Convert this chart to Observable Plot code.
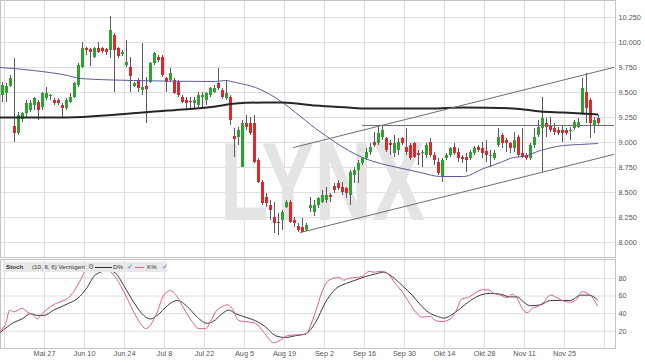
<!DOCTYPE html>
<html><head><meta charset="utf-8">
<script src="https://cdn.jsdelivr.net/npm/d3@7"></script>
<script src="https://cdn.jsdelivr.net/npm/@observablehq/plot@0.6"></script>
<style>
html,body{margin:0;padding:0;background:#fff;}
#chart{position:relative;width:645px;height:363px;overflow:hidden;font-family:"Liberation Sans",Arial,sans-serif;}
#chart svg{display:block;}
#leg{position:absolute;left:3px;top:262px;width:164px;height:10px;background:#e8e8e8;font-size:6.2px;line-height:10px;color:#333;white-space:nowrap;}
#leg span{position:absolute;top:0;}
#leg .ln{top:4.5px;height:0;border-top:1.3px solid #333;}
#leg .ck{color:#4b78c8;font-size:6.5px;}
</style></head><body>
<div id="chart"><div id="leg">
<span style="left:3px;font-weight:bold">Stoch</span>
<span style="left:29px">(10, 6, 6) Verzögert</span>
<span style="left:85px;color:#777;font-size:6.5px">⚙</span>
<span class="ln" style="left:92px;width:17px;border-color:#333"></span>
<span style="left:110px">D%</span>
<span class="ck" style="left:124px">✓</span>
<span class="ln" style="left:132px;width:9px;border-color:#e0607e"></span>
<span style="left:144px">K%</span>
<span class="ck" style="left:159px">✓</span>
</div></div>
<script>
// ---- data (trading-day index 0..149) ----
const open = [9.47,9.49,9.56,9.16,9.09,9.23,9.29,9.32,9.37,9.40, 9.35,9.44,9.46,9.42,9.42,9.37,9.34,9.40,9.45,9.57,
  9.75,9.94,9.93,9.85,9.94,9.94,9.93,9.92,10.07,9.94, 9.88,9.77,9.75,9.56,9.62,9.52,9.56,9.60,9.79,9.85,
  9.85,9.64,9.62,9.62,9.60,9.45,9.42,9.41,9.39,9.37, 9.45,9.42,9.47,9.50,9.59,9.52,9.44,9.45,9.06,9.05,
  8.75,9.19,9.19,9.19,8.82,8.60,8.45,8.37,8.25,8.20, 8.22,8.35,8.40,8.22,8.16,8.15,8.12,8.34,8.30,8.37,
  8.40,8.42,8.47,8.56,8.59,8.55,8.54,8.47,8.67,8.72, 8.79,8.84,8.90,9.00,8.99,9.05,9.04,8.99,8.89,8.92,
  9.04,8.95,8.97,8.99,8.89,8.89,8.87,9.00,8.87,8.80, 8.65,8.84,8.87,8.95,8.90,8.85,8.85,8.84,8.89,8.95,
  8.94,8.91,8.86,8.84,8.97,9.07,9.02,8.99,8.94,9.05, 8.89,8.87,8.84,8.97,9.07,9.14,9.19,9.17,9.14,9.12,
  9.12,9.12,9.11,9.14,9.15,9.29,9.50,9.42,9.17,9.24];
const high = [9.60,9.59,9.67,9.84,9.30,9.30,9.42,9.42,9.45,9.42, 9.50,9.55,9.48,9.44,9.44,9.39,9.44,9.49,9.60,9.79,
  10.00,9.95,9.94,9.95,10.00,9.95,9.94,10.26,10.09,9.95, 9.92,10.02,9.85,9.60,9.64,9.99,9.65,9.80,9.90,9.87,
  9.87,9.65,9.74,9.64,9.62,9.47,9.45,9.45,9.45,9.50, 9.50,9.50,9.55,9.57,9.74,9.54,9.62,9.47,9.14,9.15,
  9.22,9.27,9.25,9.27,8.84,8.62,8.49,8.42,8.40,8.29, 8.32,8.42,8.42,8.25,8.19,8.24,8.19,8.45,8.42,8.45,
  8.52,8.55,8.49,8.59,8.62,8.60,8.55,8.72,8.75,8.82, 8.85,8.94,8.99,9.10,9.15,9.17,9.05,9.02,9.07,9.04,
  9.05,9.14,8.99,9.00,8.92,8.92,8.99,9.04,8.90,8.84, 8.84,8.89,8.95,8.99,8.94,8.87,8.89,8.92,8.96,8.97,
  9.00,9.02,8.92,8.92,9.14,9.09,9.04,9.00,9.10,9.07, 9.14,8.89,8.99,9.14,9.22,9.45,9.24,9.25,9.19,9.15,
  9.17,9.14,9.15,9.22,9.24,9.64,9.69,9.44,9.25,9.27];
const low = [9.40,9.40,9.55,9.00,9.07,9.20,9.25,9.30,9.32,9.22, 9.32,9.42,9.42,9.37,9.37,9.24,9.32,9.39,9.44,9.55,
  9.74,9.87,9.76,9.84,9.89,9.89,9.87,9.84,9.50,9.84, 9.86,9.75,9.50,9.55,9.50,9.47,9.19,9.59,9.77,9.80,
  9.65,9.50,9.60,9.48,9.45,9.39,9.32,9.32,9.34,9.35, 9.35,9.37,9.45,9.49,9.52,9.43,9.42,9.17,8.85,8.97,
  8.75,9.12,9.07,8.79,8.59,8.37,8.35,8.22,8.09,8.07, 8.12,8.34,8.19,8.15,8.10,8.10,8.11,8.30,8.26,8.34,
  8.39,8.39,8.40,8.49,8.52,8.47,8.44,8.37,8.59,8.59, 8.77,8.82,8.87,8.95,8.97,9.02,8.90,8.87,8.85,8.87,
  8.97,8.87,8.82,8.84,8.77,8.75,8.84,8.85,8.77,8.67, 8.60,8.82,8.85,8.87,8.80,8.79,8.70,8.82,8.87,8.90,
  8.84,8.80,8.75,8.82,8.95,8.94,8.90,8.89,8.90,8.85, 8.84,8.82,8.82,8.94,9.05,8.70,9.05,9.10,9.07,9.07,
  9.00,9.07,9.02,9.12,9.14,9.27,9.19,9.04,9.09,9.17];
const close = [9.57,9.56,9.64,9.09,9.27,9.29,9.39,9.39,9.44,9.32, 9.49,9.49,9.47,9.39,9.39,9.34,9.42,9.45,9.59,9.77,
  9.94,9.92,9.90,9.94,9.90,9.91,9.90,10.12,9.92,9.86, 9.90,9.80,9.66,9.59,9.54,9.55,9.53,9.79,9.89,9.82,
  9.67,9.60,9.69,9.49,9.47,9.40,9.39,9.40,9.42,9.47, 9.47,9.49,9.54,9.54,9.54,9.45,9.49,9.22,9.03,9.12,
  9.19,9.15,9.09,8.80,8.60,8.39,8.39,8.32,8.19,8.19, 8.30,8.40,8.20,8.19,8.12,8.10,8.17,8.37,8.37,8.44,
  8.47,8.47,8.45,8.52,8.54,8.50,8.49,8.70,8.72,8.79, 8.84,8.90,8.95,8.97,9.09,9.12,8.92,8.97,8.99,9.00,
  8.99,8.90,8.84,8.85,8.87,8.90,8.97,8.87,8.82,8.69, 8.82,8.87,8.94,8.89,8.84,8.83,8.82,8.90,8.94,8.92,
  8.89,8.87,8.87,8.89,9.05,8.99,8.99,8.94,9.02,8.87, 8.85,8.84,8.97,9.05,9.15,9.24,9.15,9.12,9.10,9.09,
  9.09,9.09,9.12,9.20,9.20,9.54,9.34,9.19,9.22,9.19];

// moving averages read at sample points [index, value]
const ma50 = [[-0.5,9.75],[7.75,9.72],[16.25,9.67],[19.5,9.64],[32.75,9.62],[53.25,9.61],[55.75,9.62],[58.25,9.60],
  [63.25,9.55],[66.5,9.49],[70,9.40],[73.25,9.30],[75.75,9.22],[78.25,9.14],[80.75,9.07],[83.25,9.00],[86.5,8.92],
  [90,8.85],[94.5,8.79],[98.75,8.75],[104.5,8.70],[109.5,8.66],[115.25,8.66],[120.25,8.74],[124.5,8.80],
  [127.75,8.85],[130.25,8.86],[134.5,8.92],[140.25,8.97],[144.5,8.98],[148.75,8.99]];
const ma200 = [[-0.5,9.25],[16.25,9.25],[28.75,9.28],[41.25,9.32],[53.25,9.36],[58.25,9.39],[65.75,9.40],[70,9.40],
  [78.25,9.37],[86.5,9.35],[90.75,9.34],[107,9.34],[115.25,9.35],[127.75,9.34],[134.5,9.31],[140.25,9.30],[148.75,9.28]];

// drawn trend lines [index, price]
const upperChannel = [[72.75,8.95],[152.75,9.75]];
const lowerChannel = [[74.5,8.10],[152.75,8.88]];
const resistance = [[90,9.17],[152.75,9.17]];

// stochastic (10,6,6) [index, value]
const stochK = [[-0.5,21],[0.75,28],[1.8,44],[2.8,42],[4.9,46],[6.2,42],[7.8,38],[8.7,34],[9.9,40],[12,48],[14.1,53],
  [16.2,57],[17.8,65],[19.5,78],[21,90],[22.4,91],[24.5,92],[26.2,90],[27.8,84],[29.5,72],[31.2,57],[32.8,42],[34.5,29],
  [35.75,23],[37,27],[38.7,42],[40.3,61],[42,66],[43.7,59],[45.3,46],[47.4,31],[49.1,23],[50.75,23],[52,31],[53.25,42],
  [54.9,48],[56.2,50],[57.4,46],[59.1,32],[60.75,31],[63.25,29],[65.3,19],[67.8,7],[69.5,10],[71.2,15],[73.7,16],
  [75.75,17],[78.25,42],[79.9,65],[81.6,78],[84.1,81],[85.3,78],[86.6,80],[89.9,82],[91.6,88],[92.8,87],[94.9,88],
  [96.6,84],[98.25,74],[99.9,65],[101.6,53],[103.25,42],[104.9,36],[107,37],[108.25,32],[109.9,31],[112,34],[113.25,42],
  [114.9,57],[116.2,58],[117.4,61],[118.7,65],[119.9,67],[121.6,67],[122.8,63],[124.5,61],[126.2,58],[127.4,62],
  [128.7,57],[129.9,46],[131.2,41],[132.4,46],[133.7,48],[135.3,53],[137,61],[138.25,59],[139.9,55],[142,53],
  [143.7,57],[144.9,65],[146.2,63],[147.4,59],[148.7,49]];
const stochD = [[-0.5,19],[1.2,25],[2.8,30],[4.9,34],[7,40],[8.7,38],[10.3,38],[12.8,44],[16.2,51],[18.7,57],[21.2,70],
  [22.8,82],[24.5,87],[26.6,89],[28.25,86],[30.3,72],[32.8,53],[35.3,38],[37,34],[38.7,38],[41.2,49],[43.7,55],
  [46.2,48],[48.7,36],[51.2,29],[53.25,33],[54.9,40],[56.6,44],[58.25,40],[60.75,36],[63.25,32],[65.75,25],[68.25,15],
  [70.75,13],[73.25,15],[75.75,17],[78.25,30],[80.75,53],[83.25,68],[85.75,74],[88.25,78],[90.75,82],[93.25,85],
  [95.3,87],[97.4,82],[99.9,72],[102.4,61],[104.9,48],[107,40],[108.7,37],[110.3,35],[112,38],[114.5,46],[117,55],
  [119.5,61],[122,63],[124.5,62],[127,59],[128.7,59],[130.3,53],[132,49],[134.5,50],[137,55],[139.5,55],[142,55],
  [144.5,61],[146.6,61],[148.7,56]];

// ticks
const priceTicks = [8.0,8.25,8.5,8.75,9.0,9.25,9.5,9.75,10.0,10.25];
const priceLabels = ["8.000","8.250","8.500","8.750","9.000","9.250","9.500","9.750","10.000","10.250"];
const stochTicks = [20,40,60,80];
const stochLabels = ["20","40","60","80"];
const xGridIdx = [0.5,10.5,20.5,30.5,40.5,50.5,60.5,70.5,80.5,90.5,100.5,110.5,120.5,130.5,140.5,150.5];
const xTickIdx = [10.5,20.5,30.5,40.5,50.5,60.5,70.5,80.5,90.5,100.5,110.5,120.5,130.5,140.5];
const xLabels = ["Mai 27","Jun 10","Jun 24","Jul 8","Jul 22","Aug 5","Aug 19","Sep 2","Sep 16","Sep 30","Okt 14","Okt 28","Nov 11","Nov 25"];

// ---- build ----
const candles = open.map((o, i) => ({i, o, h: high[i], l: low[i], c: close[i]}));
const up = candles.filter(d => d.c >= d.o), down = candles.filter(d => d.c < d.o);
const priceLab = new Map(priceTicks.map((t, k) => [t, priceLabels[k]]));
const stochLab = new Map(stochTicks.map((t, k) => [t, stochLabels[k]]));
const xLab = new Map(xTickIdx.map((t, k) => [t, xLabels[k]]));
const xDomain = [-0.5, 153.25];
const font = "'Liberation Sans', Arial, sans-serif";
const grid = "#dedede", frameC = "#c4c4c4", labC = "#555";
const px = d => d[0], py = d => d[1];

const main = Plot.plot({
  width: 645, height: 258, marginLeft: 0, marginRight: 30, marginTop: 0, marginBottom: 1,
  style: {background: "transparent", fontFamily: font, fontSize: "7.3px", overflow: "visible"},
  x: {domain: xDomain, axis: null},
  y: {domain: [7.85, 10.42], axis: null},
  marks: [
    Plot.gridY(priceTicks, {stroke: grid, strokeOpacity: 1}),
    Plot.gridX(xGridIdx, {stroke: grid, strokeOpacity: 1}),
    Plot.text(["LYNX"], {frameAnchor: "middle", dx: 14.5, dy: 55, fontSize: 112, fontWeight: "bold",
      fontFamily: "'Liberation Sans', Arial, sans-serif", fill: "#e4e4e4"}),
    Plot.frame({stroke: frameC}),
    Plot.ruleX(candles, {x: "i", y1: "l", y2: "h", stroke: "#5a5a5a", strokeWidth: 1}),
    Plot.ruleX(up, {x: "i", y1: "o", y2: "c", stroke: "#2ea22e", strokeWidth: 3}),
    Plot.ruleX(down, {x: "i", y1: "o", y2: "c", stroke: "#e3262b", strokeWidth: 3}),
    Plot.line(ma50, {x: px, y: py, stroke: "#5b5d9e", strokeWidth: 1, curve: "monotone-x"}),
    Plot.line(ma200, {x: px, y: py, stroke: "#262626", strokeWidth: 2, curve: "monotone-x"}),
    Plot.line(upperChannel, {x: px, y: py, stroke: "#6e6e6e", strokeWidth: 1}),
    Plot.line(lowerChannel, {x: px, y: py, stroke: "#6e6e6e", strokeWidth: 1}),
    Plot.line(resistance, {x: px, y: py, stroke: "#6e6e6e", strokeWidth: 1}),
    Plot.axisY(priceTicks, {anchor: "right", tickSize: 0, tickPadding: 3, label: null,
      tickFormat: d => priceLab.get(d), fill: labC, fontSize: 7.3})
  ]
});

const stoch = Plot.plot({
  width: 645, height: 105, marginLeft: 0, marginRight: 30, marginTop: 1, marginBottom: 15,
  style: {background: "transparent", fontFamily: font, fontSize: "7.3px", overflow: "visible"},
  x: {domain: xDomain, axis: null},
  y: {domain: [0.5, 101.4], axis: null},
  marks: [
    Plot.gridY(stochTicks, {stroke: grid, strokeOpacity: 1}),
    Plot.gridX(xGridIdx, {stroke: grid, strokeOpacity: 1}),
    Plot.frame({stroke: frameC}),
    Plot.line(stochD, {x: px, y: py, stroke: "#3a3a3a", strokeWidth: 1, curve: "monotone-x"}),
    Plot.line(stochK, {x: px, y: py, stroke: "#e0607e", strokeWidth: 1, curve: "monotone-x"}),
    Plot.axisY(stochTicks, {anchor: "right", tickSize: 0, tickPadding: 3, label: null,
      tickFormat: d => stochLab.get(d), fill: labC, fontSize: 7.3}),
    Plot.axisX(xTickIdx, {anchor: "bottom", tickSize: 0, tickPadding: 2, label: null,
      tickFormat: d => xLab.get(d), fill: labC, fontSize: 7.3})
  ]
});

const chart = document.getElementById("chart");
const leg = document.getElementById("leg");
chart.insertBefore(main, leg);
chart.insertBefore(stoch, leg);

// narrow the watermark to the reference proportions
d3.select(main).selectAll("text").filter(function() { return this.textContent === "LYNX"; })
  .attr("textLength", 205).attr("lengthAdjust", "spacingAndGlyphs");
</script>
</body></html>
